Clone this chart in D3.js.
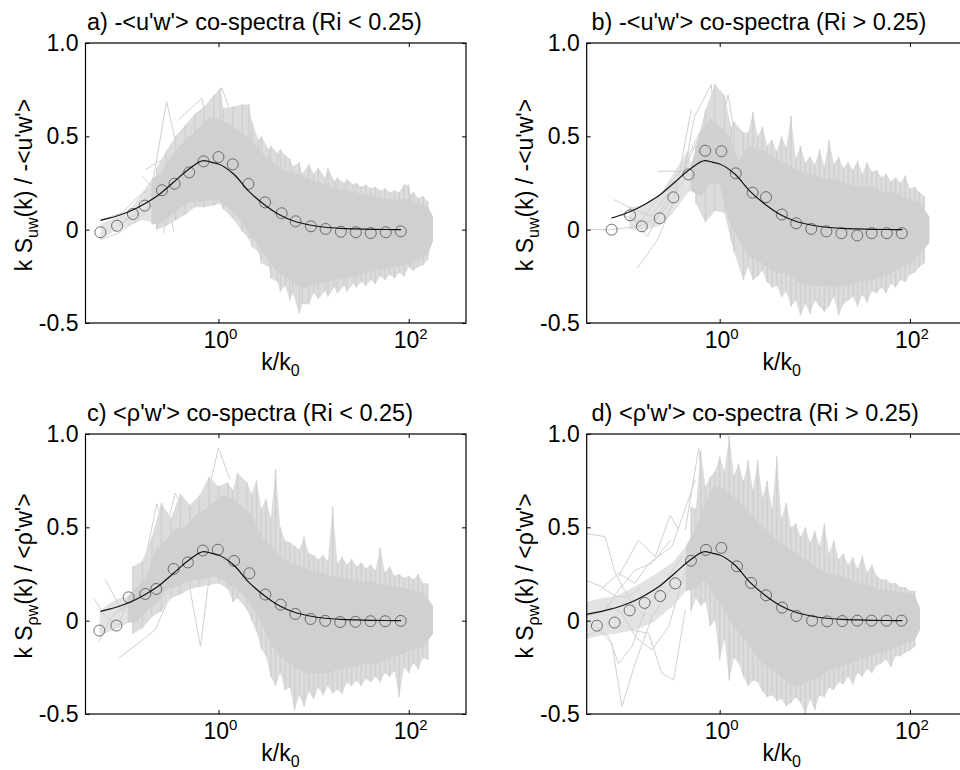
<!DOCTYPE html>
<html><head><meta charset="utf-8">
<script src="https://cdn.jsdelivr.net/npm/d3@7/dist/d3.min.js"></script>
<style>
body{margin:0;background:#fff}
svg{display:block}
text{font-family:"Liberation Sans",Arial,Helvetica,sans-serif;fill:#000}
</style>
</head><body>
<svg id="chart" width="960" height="770"></svg>
<script>
// ---------------- DATA ----------------
const titles = [
  "a) -<u'w'> co-spectra (Ri < 0.25)",
  "b) -<u'w'> co-spectra (Ri > 0.25)",
  "c) <\u03C1'w'> co-spectra (Ri < 0.25)",
  "d) <\u03C1'w'> co-spectra (Ri > 0.25)"
];
const yLabelSub = ["uw", "uw", "\u03C1w", "\u03C1w"];
const yLabelTail = ["(k) / -<u'w'>", "(k) / -<u'w'>", "(k) / <\u03C1'w'>", "(k) / <\u03C1'w'>"];
const yTicks = [-0.5, 0, 0.5, 1.0];
const yTickLabels = ["-0.5", "0", "0.5", "1.0"];
const xTicks = [1, 100];
const xTickExp = ["0", "2"];

// bin-averaged co-spectra (circles): k/k0 and normalised value
const circK_a = [0.0574,0.0859,0.126,0.1675,0.2547,0.345,0.492,0.697,1.0,1.413,2.065,3.09,4.61,6.47,9.38,13.37,19.36,27.8,39.9,57.4,82.4];
const circV_a = [-0.014,0.021,0.084,0.129,0.211,0.246,0.307,0.366,0.389,0.35,0.245,0.146,0.088,0.045,0.018,0.004,-0.011,-0.014,-0.018,-0.014,-0.009];
const circK_b = [0.0731,0.1143,0.152,0.2339,0.326,0.47,0.705,1.042,1.476,2.218,3.069,4.498,6.368,9.183,13.24,19.05,27.93,39.63,57.15,82.22];
const circV_b = [0.0,0.077,0.018,0.061,0.173,0.296,0.423,0.42,0.302,0.198,0.174,0.081,0.034,0.004,-0.009,-0.019,-0.031,-0.019,-0.019,-0.019];
const circK_c = [0.056,0.0845,0.1138,0.170,0.2218,0.3373,0.4764,0.6855,0.984,1.459,2.113,3.112,4.508,6.427,9.311,13.24,19.05,27.54,39.63,56.49,82.41];
const circV_c = [-0.053,-0.026,0.125,0.143,0.17,0.277,0.312,0.376,0.38,0.32,0.254,0.14,0.086,0.036,0.009,-0.001,-0.007,-0.006,-0.003,-0.003,-0.001];
const circK_d = [0.0512,0.0785,0.113,0.1626,0.2371,0.3412,0.4989,0.7178,1.042,1.521,2.138,3.076,4.529,6.412,9.376,13.49,19.41,27.93,39.45,56.75,81.66];
const circV_d = [-0.027,-0.01,0.055,0.095,0.132,0.2,0.321,0.379,0.39,0.291,0.202,0.136,0.07,0.025,0.0,-0.004,-0.002,0.0,0.0,0.0,0.0];

// model co-spectrum (black line)
const modelK = [0.0398,0.0575,0.073,0.0794,0.115,0.166,0.24,0.339,0.49,0.70,0.832,1.0,1.445,2.09,3.02,4.37,6.31,9.12,13.2,19.05,27.5,39.8,57.5,83.2];
const modelV = [0.034,0.050,0.063,0.068,0.097,0.138,0.19,0.255,0.325,0.37,0.362,0.352,0.298,0.205,0.135,0.08,0.045,0.025,0.013,0.007,0.004,0.002,0.001,0.0];
const modelStartK = [0.0575, 0.073, 0.0575, 0.0398];

// light bundle of individual spectra at low k: [log10(k/k0), upper, lower]
const lowA = [[-1.24,0.03,-0.05],[-1.1,0.06,-0.01],[-1.0,0.08,0.01],[-0.9,0.13,0.03],[-0.8,0.2,0.05],[-0.7,0.27,0.04]];
const lowB = [[-0.95,0.12,0.0],[-0.8,0.13,0.0],[-0.63,0.18,0.02],[-0.49,0.3,0.09],[-0.33,0.43,0.2],[-0.3,0.34,0.21]];
const lowC = [[-1.25,0.05,-0.08],[-1.15,0.09,-0.06],[-1.05,0.12,-0.04],[-0.95,0.13,-0.01]];
const lowD = [[-1.4,0.1,-0.1],[-1.25,0.12,-0.08],[-1.1,0.13,-0.07],[-0.9,0.18,-0.05],[-0.7,0.24,-0.01],[-0.5,0.31,0.075],[-0.35,0.40,0.16]];

// core of the dense individual spectra: [log10(k/k0), upper, lower]
const coreA = [[-0.70,0.27,0.03],[-0.60,0.30,0.04],[-0.50,0.39,0.08],[-0.40,0.45,0.12],[-0.30,0.50,0.15],[-0.20,0.545,0.15],[-0.10,0.60,0.16],[0.00,0.59,0.16],[0.10,0.57,0.12],[0.20,0.53,0.07],[0.30,0.50,0.00],[0.40,0.44,-0.07],[0.50,0.39,-0.14],[0.60,0.35,-0.21],[0.70,0.31,-0.25],[0.80,0.30,-0.29],[0.90,0.28,-0.31],[1.00,0.26,-0.29],[1.10,0.24,-0.28],[1.20,0.22,-0.27],[1.30,0.21,-0.26],[1.40,0.20,-0.25],[1.50,0.19,-0.24],[1.60,0.18,-0.22],[1.70,0.17,-0.21],[1.80,0.16,-0.20],[1.90,0.16,-0.19],[2.00,0.16,-0.18],[2.10,0.14,-0.16],[2.20,0.12,-0.13],[2.25,0.07,-0.06]];
const coreB = [[-0.30,0.34,0.21],[-0.20,0.52,0.18],[-0.10,0.59,0.25],[0.00,0.55,0.25],[0.10,0.50,0.05],[0.20,0.36,-0.05],[0.30,0.45,-0.14],[0.40,0.43,-0.16],[0.50,0.41,-0.20],[0.60,0.38,-0.23],[0.70,0.35,-0.23],[0.80,0.32,-0.27],[0.90,0.30,-0.29],[1.00,0.29,-0.30],[1.10,0.27,-0.30],[1.20,0.27,-0.30],[1.30,0.25,-0.30],[1.40,0.23,-0.29],[1.50,0.23,-0.27],[1.60,0.23,-0.27],[1.70,0.20,-0.25],[1.80,0.20,-0.23],[1.90,0.18,-0.20],[2.00,0.16,-0.18],[2.10,0.14,-0.13],[2.20,0.07,-0.07]];
const coreC = [[-0.95,0.13,-0.01],[-0.85,0.18,0.00],[-0.75,0.24,0.06],[-0.65,0.38,0.095],[-0.55,0.43,0.17],[-0.45,0.49,0.18],[-0.35,0.50,0.21],[-0.25,0.56,0.22],[-0.15,0.59,0.23],[-0.05,0.63,0.24],[0.05,0.67,0.22],[0.15,0.65,0.18],[0.25,0.61,0.15],[0.35,0.56,0.08],[0.45,0.45,-0.01],[0.55,0.40,-0.12],[0.65,0.345,-0.19],[0.75,0.31,-0.23],[0.85,0.29,-0.26],[0.95,0.27,-0.28],[1.05,0.255,-0.28],[1.15,0.24,-0.28],[1.25,0.23,-0.26],[1.35,0.22,-0.25],[1.45,0.21,-0.24],[1.55,0.21,-0.23],[1.65,0.20,-0.23],[1.75,0.19,-0.21],[1.85,0.18,-0.19],[1.95,0.17,-0.17],[2.05,0.16,-0.15],[2.15,0.15,-0.14],[2.25,0.08,-0.07]];
const coreD = [[-0.35,0.40,0.16],[-0.25,0.49,0.18],[-0.15,0.63,0.22],[-0.05,0.72,0.13],[0.05,0.70,0.06],[0.15,0.66,-0.03],[0.25,0.61,-0.09],[0.35,0.56,-0.16],[0.45,0.50,-0.23],[0.55,0.45,-0.26],[0.65,0.41,-0.30],[0.75,0.38,-0.34],[0.85,0.34,-0.34],[0.95,0.31,-0.32],[1.05,0.27,-0.30],[1.15,0.25,-0.26],[1.25,0.24,-0.25],[1.35,0.22,-0.23],[1.45,0.20,-0.21],[1.55,0.19,-0.19],[1.65,0.17,-0.175],[1.75,0.16,-0.16],[1.85,0.155,-0.14],[1.95,0.145,-0.12],[2.05,0.13,-0.10],[2.10,0.07,-0.05]];

// extreme excursions of single spectra (spikes): [log10(k/k0), max, min]
const spikesA = [[-0.65,0.33,0.00],[-0.55,0.42,0.02],[-0.45,0.50,0.05],[-0.35,0.56,0.08],[-0.25,0.62,0.12],[-0.15,0.66,0.12],[-0.05,0.72,0.13],[0.02,0.76,0.14],[0.05,0.65,0.11],[0.15,0.66,0.06],[0.25,0.67,-0.01],[0.32,0.67,-0.05],[0.35,0.58,-0.09],[0.42,0.48,-0.12],[0.45,0.50,-0.18],[0.53,0.43,-0.20],[0.55,0.45,-0.26],[0.62,0.41,-0.28],[0.65,0.43,-0.33],[0.70,0.40,-0.30],[0.75,0.38,-0.38],[0.78,0.34,-0.34],[0.85,0.36,-0.45],[0.88,0.30,-0.40],[0.95,0.35,-0.40],[1.00,0.30,-0.34],[1.05,0.33,-0.37],[1.12,0.28,-0.33],[1.15,0.33,-0.36],[1.22,0.26,-0.31],[1.25,0.28,-0.34],[1.32,0.25,-0.30],[1.35,0.27,-0.33],[1.42,0.24,-0.29],[1.45,0.25,-0.31],[1.50,0.23,-0.28],[1.55,0.24,-0.30],[1.60,0.22,-0.27],[1.65,0.23,-0.29],[1.70,0.21,-0.25],[1.75,0.22,-0.27],[1.80,0.20,-0.24],[1.85,0.21,-0.26],[1.90,0.20,-0.23],[1.95,0.24,-0.25],[2.00,0.24,-0.20],[2.02,0.19,-0.21],[2.05,0.20,-0.22],[2.10,0.17,-0.20],[2.15,0.18,-0.19],[2.20,0.15,-0.16]];
const spikesB = [[-0.25,0.45,0.14],[-0.15,0.64,0.04],[-0.05,0.78,0.10],[0.05,0.72,0.09],[0.12,0.55,-0.06],[0.15,0.58,-0.12],[0.25,0.52,-0.27],[0.30,0.52,-0.20],[0.35,0.63,-0.27],[0.40,0.50,-0.25],[0.45,0.55,-0.22],[0.50,0.45,-0.28],[0.55,0.48,-0.31],[0.60,0.42,-0.30],[0.65,0.50,-0.36],[0.70,0.44,-0.33],[0.75,0.61,-0.41],[0.80,0.38,-0.38],[0.85,0.45,-0.46],[0.90,0.36,-0.40],[0.95,0.39,-0.45],[1.00,0.35,-0.38],[1.05,0.43,-0.41],[1.10,0.34,-0.44],[1.15,0.48,-0.41],[1.20,0.35,-0.36],[1.25,0.39,-0.46],[1.30,0.33,-0.40],[1.35,0.36,-0.38],[1.40,0.32,-0.36],[1.45,0.37,-0.41],[1.50,0.30,-0.35],[1.55,0.36,-0.39],[1.60,0.31,-0.33],[1.65,0.32,-0.34],[1.70,0.28,-0.31],[1.75,0.30,-0.34],[1.80,0.26,-0.29],[1.85,0.28,-0.31],[1.90,0.25,-0.27],[1.95,0.29,-0.28],[2.00,0.22,-0.24],[2.05,0.23,-0.23],[2.10,0.20,-0.20],[2.15,0.18,-0.18]];
const spikesC = [[-0.90,0.29,-0.07],[-0.80,0.32,-0.04],[-0.70,0.45,0.02],[-0.60,0.63,0.05],[-0.50,0.55,0.12],[-0.40,0.68,0.14],[-0.30,0.62,0.17],[-0.20,0.67,0.18],[-0.10,0.77,0.19],[0.00,0.72,0.20],[0.10,0.74,0.17],[0.15,0.70,0.10],[0.20,0.79,0.12],[0.30,0.74,0.06],[0.35,0.68,0.00],[0.40,0.75,-0.06],[0.45,0.60,-0.15],[0.50,0.65,-0.19],[0.55,0.55,-0.30],[0.60,0.81,-0.35],[0.65,0.50,-0.28],[0.70,0.43,-0.37],[0.75,0.42,-0.36],[0.80,0.40,-0.48],[0.85,0.38,-0.40],[0.90,0.45,-0.46],[0.95,0.36,-0.38],[1.00,0.35,-0.42],[1.05,0.33,-0.36],[1.10,0.35,-0.40],[1.15,0.32,-0.35],[1.20,0.61,-0.39],[1.25,0.31,-0.37],[1.30,0.34,-0.39],[1.35,0.30,-0.33],[1.40,0.33,-0.35],[1.45,0.29,-0.32],[1.50,0.31,-0.35],[1.55,0.28,-0.31],[1.60,0.30,-0.33],[1.65,0.27,-0.30],[1.70,0.39,-0.33],[1.75,0.26,-0.28],[1.80,0.29,-0.30],[1.85,0.24,-0.27],[1.90,0.25,-0.41],[1.95,0.23,-0.25],[2.00,0.24,-0.28],[2.05,0.22,-0.23],[2.10,0.25,-0.26],[2.15,0.20,-0.20],[2.20,0.20,-0.21]];
const spikesD = [[-0.30,0.61,0.05],[-0.25,0.60,0.12],[-0.20,0.91,0.08],[-0.15,0.72,0.10],[-0.10,0.77,-0.03],[-0.05,0.80,0.00],[0.00,0.88,-0.21],[0.05,0.80,-0.10],[0.10,0.99,-0.32],[0.15,0.78,-0.20],[0.20,0.84,-0.23],[0.25,0.75,-0.30],[0.30,0.86,-0.35],[0.35,0.70,-0.32],[0.40,0.86,-0.33],[0.45,0.66,-0.38],[0.50,0.75,-0.41],[0.55,0.60,-0.40],[0.60,0.88,-0.43],[0.65,0.55,-0.42],[0.70,0.63,-0.46],[0.75,0.50,-0.44],[0.80,0.52,-0.41],[0.85,0.45,-0.44],[0.90,0.50,-0.50],[0.95,0.42,-0.42],[1.00,0.48,-0.48],[1.05,0.40,-0.40],[1.10,0.52,-0.41],[1.15,0.36,-0.36],[1.20,0.43,-0.37],[1.25,0.33,-0.33],[1.30,0.36,-0.34],[1.35,0.30,-0.30],[1.40,0.34,-0.34],[1.45,0.28,-0.28],[1.50,0.35,-0.30],[1.55,0.26,-0.26],[1.60,0.30,-0.28],[1.65,0.24,-0.24],[1.70,0.22,-0.23],[1.75,0.22,-0.21],[1.80,0.20,-0.25],[1.85,0.20,-0.19],[1.90,0.18,-0.19],[1.95,0.18,-0.17],[2.00,0.16,-0.16],[2.05,0.16,-0.14]];

// sparse individual spectra at low k: [log10(k/k0), value]
const sparseA = [
  [[-1.241,-0.054],[-1.049,-0.018],[-0.874,0.045],[-0.699,0.125],[-0.559,0.205]],
  [[-1.224,0.054],[-1.014,0.089],[-0.839,0.179],[-0.664,0.232],[-0.524,0.268]],
  [[-1.049,0.018],[-0.874,0.089],[-0.769,0.161],[-0.594,0.25]],
  [[-0.804,0.286],[-0.699,0.232],[-0.545,0.686],[-0.455,0.482],[-0.350,0.536]],
  [[-0.769,0.321],[-0.594,0.375],[-0.490,0.429],[-0.350,0.482]],
  [[-0.577,-0.018],[-0.524,0.179],[-0.472,-0.009]],
  [[-0.682,0.080],[-0.577,0.054],[-0.524,0.232]],
  [[-0.420,0.589],[-0.175,0.705],[-0.105,0.536]],
  [[-0.245,0.518],[0.035,0.759],[0.105,0.661]],
  [[-0.979,0.054],[-0.822,0.089],[-0.699,0.143]]
];
const sparseB = [
  [[-1.429,0.0],[-1.136,0.0],[-0.847,0.018],[-0.631,0.071],[-0.487,0.179],[-0.328,0.304]],
  [[-1.111,0.161],[-0.899,0.107],[-0.723,0.071],[-0.511,0.214],[-0.335,0.339]],
  [[-0.864,-0.205],[-0.653,-0.054],[-0.476,0.161],[-0.300,0.643]],
  [[-0.935,0.071],[-0.758,-0.036],[-0.617,0.107],[-0.441,0.25],[-0.229,0.482]],
  [[-1.041,0.080],[-0.829,0.045],[-0.635,0.179],[-0.406,0.321],[-0.159,0.571]],
  [[-0.653,0.313],[-0.370,0.313],[-0.265,0.268],[-0.123,0.500]],
  [[-0.370,0.313],[-0.265,0.607],[-0.088,0.777],[-0.035,0.427],[0.088,0.723],[0.159,0.500]]
];
const sparseC = [
  [[-1.311,0.121],[-1.189,0.023],[-1.049,-0.030],[-0.944,0.130]],
  [[-1.259,-0.111],[-1.119,0.023],[-0.944,0.095],[-0.804,0.184]],
  [[-1.049,-0.200],[-0.839,-0.120],[-0.664,-0.048],[-0.542,0.095]],
  [[-1.189,0.220],[-1.014,0.050],[-0.839,0.166],[-0.647,0.627],[-0.542,0.434]],
  [[-0.734,0.344],[-0.594,0.398],[-0.455,0.684],[-0.350,0.577]],
  [[-0.350,0.309],[-0.189,-0.138],[-0.105,0.202]],
  [[-0.192,0.504],[0.000,0.925],[0.122,0.755]],
  [[-0.874,0.238],[-0.699,0.273],[-0.472,0.398],[-0.350,0.595]]
];
const sparseD = [
  [[-1.414,0.468],[-1.204,0.45],[-1.098,0.254],[-0.923,0.093],[-0.782,0.021]],
  [[-1.414,-0.086],[-1.274,-0.05],[-1.133,-0.121],[-1.028,-0.459],[-0.888,-0.229],[-0.712,0.021],[-0.502,0.182]],
  [[-1.414,0.021],[-1.204,0.057],[-1.063,0.164],[-0.888,0.271],[-0.712,0.307],[-0.516,0.432]],
  [[-1.344,-0.014],[-1.168,-0.086],[-1.063,-0.229],[-0.923,-0.139],[-0.782,0.057],[-0.607,0.182],[-0.396,0.343]],
  [[-1.063,0.236],[-0.853,0.432],[-0.677,0.343],[-0.519,0.566],[-0.432,0.486]],
  [[-1.204,0.093],[-1.028,0.039],[-0.888,-0.086],[-0.712,-0.157],[-0.537,-0.032],[-0.361,0.271]],
  [[-0.923,-0.05],[-0.747,-0.068],[-0.607,-0.282],[-0.484,-0.318],[-0.361,0.057]],
  [[-1.256,0.164],[-1.063,0.254],[-0.888,0.2],[-0.747,0.307],[-0.502,0.396],[-0.256,0.754]],
  [[-1.414,0.218],[-1.239,0.182],[-1.098,0.129],[-0.958,0.129],[-0.817,0.182]],
  [[-0.361,0.486],[-0.221,0.923],[-0.151,0.593]]
];

// ---------------- LAYOUT ----------------
const layout = [
  {left:85.5,  top:43,  w:380.5, h:280, titleX:87,    titleY:30},
  {left:586.7, top:43,  w:380.5, h:280, titleX:591.5, titleY:30},
  {left:85.5,  top:434, w:380.5, h:280, titleX:87,    titleY:421},
  {left:586.7, top:434, w:380.5, h:280, titleX:591.5, titleY:421}
];
const panels = [
  {circK:circK_a, circV:circV_a, low:lowA, core:coreA, spikes:spikesA, sparse:sparseA},
  {circK:circK_b, circV:circV_b, low:lowB, core:coreB, spikes:spikesB, sparse:sparseB},
  {circK:circK_c, circV:circV_c, low:lowC, core:coreC, spikes:spikesC, sparse:sparseC},
  {circK:circK_d, circV:circV_d, low:lowD, core:coreD, spikes:spikesD, sparse:sparseD}
];

const GRAY = "#d0d0d0";
const LIGHT = "#e3e3e3";
const OUTER = "#dcdcdc";
const FONT = 23;
const svg = d3.select("#chart");
const defs = svg.append("defs");

panels.forEach((p, i) => {
  const L = layout[i];
  const x = d3.scaleLog().domain([0.04, 400]).range([L.left, L.left + L.w]);
  const y = d3.scaleLinear().domain([-0.5, 1.0]).range([L.top + L.h, L.top]);
  const g = svg.append("g");
  const lx = d => x(Math.pow(10, d[0]));

  defs.append("clipPath").attr("id", "clip" + i)
    .append("rect").attr("x", L.left).attr("y", L.top).attr("width", L.w).attr("height", L.h);
  const pg = g.append("g").attr("clip-path", `url(#clip${i})`);

  const area = d3.area().x(lx).y0(d => y(d[2])).y1(d => y(d[1]));

  // light low-k bundle
  pg.append("path").datum(p.low).attr("d", area).attr("fill", LIGHT).attr("stroke", "none");

  // sparse spectra
  const sLine = d3.line().x(lx).y(d => y(d[1]));
  pg.selectAll("path.sp").data(p.sparse).join("path").attr("class", "sp")
    .attr("d", sLine).attr("fill", "none").attr("stroke", GRAY).attr("stroke-width", 1);

  // outer envelope of the excursions (partially covered)
  pg.append("path").datum(p.spikes).attr("d", area)
    .attr("fill", OUTER).attr("stroke", "none");

  // single excursions
  pg.selectAll("line.spk").data(p.spikes).join("line").attr("class", "spk")
    .attr("x1", lx).attr("x2", lx).attr("y1", d => y(d[1])).attr("y2", d => y(d[2]))
    .attr("stroke", GRAY).attr("stroke-width", 1.4);

  // solid core
  pg.append("path").datum(p.core).attr("d", area)
    .attr("fill", GRAY).attr("stroke", GRAY).attr("stroke-width", 1);

  // circles
  const cData = p.circK.map((k, j) => [k, p.circV[j]]);
  g.selectAll("circle").data(cData).join("circle")
    .attr("cx", d => x(d[0])).attr("cy", d => y(d[1])).attr("r", 5.5)
    .attr("fill", "none").attr("stroke", "#6a6a6a").attr("stroke-width", 1);

  // model line
  const mData = modelK.map((k, j) => [k, modelV[j]]).filter(d => d[0] >= modelStartK[i] - 1e-9);
  const mLine = d3.line().x(d => x(d[0])).y(d => y(d[1])).curve(d3.curveMonotoneX);
  g.append("path").datum(mData).attr("d", mLine)
    .attr("fill", "none").attr("stroke", "#111").attr("stroke-width", 1.2);

  // axes
  const left = g.append("g").attr("transform", `translate(${L.left},0)`)
    .call(d3.axisLeft(y).tickValues(yTicks).tickSize(-4).tickPadding(7).tickFormat((d, j) => yTickLabels[j]));
  const right = g.append("g").attr("transform", `translate(${L.left + L.w},0)`)
    .call(d3.axisRight(y).tickValues(yTicks).tickSize(-4).tickFormat(""));
  const bottom = g.append("g").attr("transform", `translate(0,${L.top + L.h})`)
    .call(d3.axisBottom(x).tickValues(xTicks).tickSize(-4).tickFormat(""));
  const top = g.append("g").attr("transform", `translate(0,${L.top})`)
    .call(d3.axisTop(x).tickValues(xTicks).tickSize(-4).tickFormat(""));
  [left, right, bottom, top].forEach(a => {
    a.select(".domain").remove();
    a.selectAll(".tick line").attr("stroke", "#000").attr("stroke-width", 1);
  });
  left.selectAll("text").attr("font-size", FONT).attr("font-family", "Liberation Sans, Arial, sans-serif");

  g.append("rect").attr("x", L.left).attr("y", L.top).attr("width", L.w).attr("height", L.h)
    .attr("fill", "none").attr("stroke", "#000").attr("stroke-width", 1.2);

  // x tick labels 10^n
  xTicks.forEach((t, j) => {
    const tx = g.append("text").attr("x", x(t) + 2).attr("y", L.top + L.h + 25)
      .attr("text-anchor", "middle").attr("font-size", FONT).text("10");
    tx.append("tspan").attr("dy", -9).attr("font-size", 15).text(xTickExp[j]);
  });

  // x label
  const xl = g.append("text").attr("x", x(1) + 62).attr("y", L.top + L.h + 47)
    .attr("text-anchor", "middle").attr("font-size", FONT).text("k/k");
  xl.append("tspan").attr("dy", 6).attr("font-size", 16).text("0");

  // y label
  const yl = g.append("text")
    .attr("transform", `translate(${L.left - 53.5},${L.top + L.h / 2 + 2}) rotate(-90)`)
    .attr("text-anchor", "middle").attr("font-size", FONT).text("k S");
  yl.append("tspan").attr("dy", 6).attr("font-size", 16).text(yLabelSub[i]);
  yl.append("tspan").attr("dy", -6).text(yLabelTail[i]);

  // title
  g.append("text").attr("x", L.titleX).attr("y", L.titleY).attr("font-size", FONT + 0.5).text(titles[i]);
});
</script>
</body></html>
